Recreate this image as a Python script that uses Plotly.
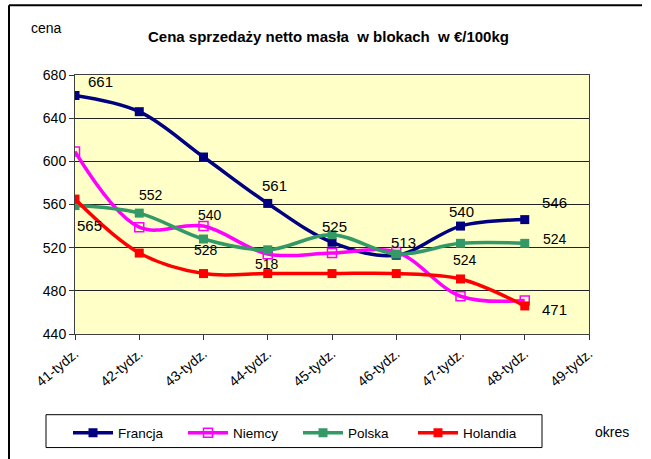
import plotly.graph_objects as go

categories = ["41-tydz.", "42-tydz.", "43-tydz.", "44-tydz.", "45-tydz.",
              "46-tydz.", "47-tydz.", "48-tydz.", "49-tydz."]
francja = [661, 646, 604, 561, 525, 513, 540, 546]
niemcy = [609, 539, 540, 514, 515, 516, 475, 471]
polska = [559, 552, 528, 518, 532, 514, 524, 524]
holandia = [565, 515, 496, 496, 496, 496, 491, 466]
y_ticks = [440, 480, 520, 560, 600, 640, 680]

FONT = "Arial, Liberation Sans, sans-serif"

series = [
    ("Francja", francja, "#000080", dict(symbol="square", size=9, color="#000080")),
    ("Niemcy", niemcy, "#FF00FF", dict(symbol="square-open", size=9, color="#FF00FF",
                                        line=dict(width=1.5, color="#FF00FF"))),
    ("Polska", polska, "#339966", dict(symbol="square", size=9, color="#339966")),
    ("Holandia", holandia, "#FF0000", dict(symbol="square", size=9, color="#FF0000")),
]

fig = go.Figure()
for name, vals, col, mk in series:
    fig.add_trace(go.Scatter(
        x=categories[:len(vals)], y=vals, name=name, mode="lines+markers",
        line=dict(color=col, width=3.5, shape="spline", smoothing=1.0),
        marker=mk,
    ))

# data labels: (series values, index, x shift px, y shift px, font size)
labels = [
    (francja, 0, 25, 14, 15),
    (polska, 1, 12, 18, 14),
    (niemcy, 2, 6, 11, 14),
    (polska, 2, 2, -11, 14),
    (francja, 3, 7, 18, 15),
    (polska, 3, -1, -14, 14),
    (holandia, 0, 14, -26, 15),
    (francja, 4, 2, 16, 15),
    (francja, 5, 7, 13, 15),
    (francja, 6, 1, 15, 15),
    (polska, 6, 4, -17, 14),
    (francja, 7, 30, 17, 15),
    (polska, 7, 30, 4, 14),
    (niemcy, 7, 30, -9, 15),
]
annotations = []
for vals, i, dx, dy, fs in labels:
    annotations.append(dict(
        x=categories[i], y=vals[i], text=str(vals[i]), showarrow=False,
        xshift=dx, yshift=dy, xanchor="center", yanchor="middle",
        font=dict(family=FONT, size=fs, color="#000000"),
    ))

# pixel -> paper helpers (plot area 75..589 x, 75..335 y)
def px(x):
    return (x - 75) / 514.0

def py(y):
    return (335 - y) / 260.0

annotations += [
    dict(text="cena", x=px(46), y=py(28), xref="paper", yref="paper", showarrow=False,
         xanchor="center", yanchor="middle",
         font=dict(family=FONT, size=14, color="#000")),
    dict(text="<b>Cena sprzedaży netto masła  w blokach  w €/100kg</b>",
         x=px(328), y=py(36), xref="paper", yref="paper", showarrow=False,
         xanchor="center", yanchor="middle",
         font=dict(family=FONT, size=15, color="#000")),
    dict(text="okres", x=px(612), y=py(433), xref="paper", yref="paper", showarrow=False,
         xanchor="center", yanchor="middle",
         font=dict(family=FONT, size=14, color="#000")),
]

shapes = [
    dict(type="line", xref="paper", yref="paper", x0=px(9), x1=px(9), y0=py(5), y1=py(470),
         line=dict(color="#000", width=2)),
    dict(type="line", xref="paper", yref="paper", x0=px(9), x1=px(642), y0=py(5), y1=py(5),
         line=dict(color="#000", width=2)),
    dict(type="rect", xref="paper", yref="paper", x0=px(46), x1=px(542), y0=py(416), y1=py(449),
         line=dict(color="#000", width=1), fillcolor="rgba(0,0,0,0)", layer="below"),
]

fig.update_layout(
    width=651, height=459,
    margin=dict(l=75, r=62, t=75, b=124),
    paper_bgcolor="#FFFFFF", plot_bgcolor="#FFFFC8",
    font=dict(family=FONT, size=13, color="#000"),
    showlegend=True,
    legend=dict(orientation="h", x=px(68), y=py(433), xanchor="left", yanchor="middle",
                borderwidth=0, bgcolor="rgba(0,0,0,0)", itemwidth=40,
                entrywidth=60, entrywidthmode="pixels",
                font=dict(family=FONT, size=13.5, color="#000")),
    annotations=annotations, shapes=shapes,
)
fig.update_xaxes(type="category", categoryorder="array", categoryarray=categories,
                 range=[0, 8], tickangle=-40, ticks="outside", ticklen=5, tickcolor="#333",
                 showline=True, linecolor="#404040", linewidth=1, mirror=True,
                 showgrid=False, tickfont=dict(family=FONT, size=14, color="#000"))
fig.update_yaxes(range=[440, 680], tickvals=y_ticks, ticks="outside", ticklen=5,
                 tickcolor="#333", showline=True, linecolor="#404040", linewidth=1,
                 mirror=True, showgrid=True, gridcolor="#222", gridwidth=1,
                 zeroline=False, tickfont=dict(family=FONT, size=14, color="#000"))

fig.write_html("out.html", config={"displayModeBar": False},
               post_script="document.body.style.margin='0';")
